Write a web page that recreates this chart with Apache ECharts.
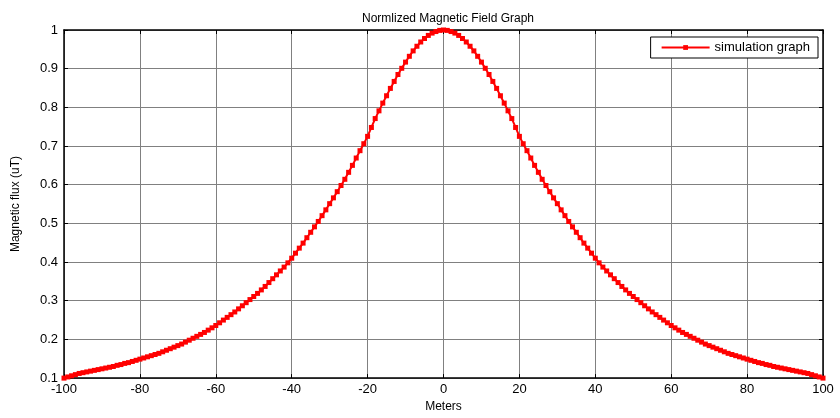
<!DOCTYPE html>
<html>
<head>
<meta charset="utf-8">
<title>Normlized Magnetic Field Graph</title>
<script src="https://cdn.jsdelivr.net/npm/echarts@6/dist/echarts.min.js"></script>
<style>
	html, body { margin: 0; padding: 0; background: #fff; }
	#chart { width: 840px; height: 418px; }
</style>
</head>
<body>
<div id="chart"></div>
<script>
// 横轴：米，每 1 米一个采样点
var xStart = -100;
var xStep = 1;
// 归一化磁通 (uT)，从 -100 m 到 100 m
var flux = [
	0.100, 0.103, 0.106, 0.109, 0.112, 0.114, 0.116, 0.118, 0.120, 0.122,
	0.124, 0.126, 0.128, 0.130, 0.133, 0.135, 0.138, 0.140, 0.143, 0.146,
	0.149, 0.152, 0.155, 0.158, 0.161, 0.164, 0.168, 0.172, 0.176, 0.180,
	0.184, 0.188, 0.193, 0.198, 0.203, 0.208, 0.213, 0.218, 0.224, 0.230,
	0.236, 0.243, 0.250, 0.257, 0.264, 0.271, 0.279, 0.287, 0.295, 0.303,
	0.311, 0.319, 0.328, 0.337, 0.347, 0.357, 0.367, 0.377, 0.387, 0.398,
	0.410, 0.423, 0.436, 0.449, 0.463, 0.477, 0.491, 0.505, 0.520, 0.535,
	0.551, 0.566, 0.582, 0.598, 0.614, 0.632, 0.650, 0.669, 0.688, 0.706,
	0.725, 0.748, 0.771, 0.791, 0.811, 0.830, 0.849, 0.867, 0.885, 0.901,
	0.917, 0.932, 0.946, 0.958, 0.969, 0.978, 0.986, 0.992, 0.996, 0.999,
	1.000,
	0.999, 0.996, 0.992, 0.986, 0.978, 0.969, 0.958, 0.946, 0.932, 0.917,
	0.901, 0.885, 0.867, 0.849, 0.830, 0.811, 0.791, 0.771, 0.748, 0.725,
	0.706, 0.688, 0.669, 0.650, 0.632, 0.614, 0.598, 0.582, 0.566, 0.551,
	0.535, 0.520, 0.505, 0.491, 0.477, 0.463, 0.449, 0.436, 0.423, 0.410,
	0.398, 0.387, 0.377, 0.367, 0.357, 0.347, 0.337, 0.328, 0.319, 0.311,
	0.303, 0.295, 0.287, 0.279, 0.271, 0.264, 0.257, 0.250, 0.243, 0.236,
	0.230, 0.224, 0.218, 0.213, 0.208, 0.203, 0.198, 0.193, 0.188, 0.184,
	0.180, 0.176, 0.172, 0.168, 0.164, 0.161, 0.158, 0.155, 0.152, 0.149,
	0.146, 0.143, 0.140, 0.138, 0.135, 0.133, 0.130, 0.128, 0.126, 0.124,
	0.122, 0.120, 0.118, 0.116, 0.114, 0.112, 0.109, 0.106, 0.103, 0.100
];
var xTicks = [-100, -80, -60, -40, -20, 0, 20, 40, 60, 80, 100];
var yTicks = [0.1, 0.2, 0.3, 0.4, 0.5, 0.6, 0.7, 0.8, 0.9, 1];

var FONT = '"Liberation Sans", Arial, sans-serif';

var points = [];
for (var i = 0; i < flux.length; i++) {
	points.push([xStart + i * xStep, flux[i]]);
}

var chart = echarts.init(document.getElementById('chart'));

//坐标轴（四周的框）
function boxAxis(pos, isX, main) {
	var ax = {
		type: 'value',
		position: pos,
		min: isX ? xTicks[0] : yTicks[0],
		max: isX ? xTicks[xTicks.length - 1] : yTicks[yTicks.length - 1],
		interval: isX ? 20 : 0.1,
		axisLine: { show: true, onZero: false, lineStyle: { color: '#000', width: 1.5 } },
		axisTick: { show: true, inside: true, length: 4, lineStyle: { color: '#000' } },
		axisLabel: { show: false },
		splitLine: { show: false }
	};
	if (main) {
		ax.axisLabel = {
			show: true,
			color: '#000',
			fontFamily: FONT,
			fontSize: 13,
			margin: isX ? 5 : 6,
			formatter: function(v) {
				return isX ? String(Math.round(v)) : String(+v.toFixed(1));
			}
		};
		ax.splitLine = { show: true, lineStyle: { color: '#808080', width: 1 } };
		ax.nameLocation = 'middle';
		ax.nameTextStyle = { color: '#000', fontFamily: FONT, fontSize: 12 };
		if (isX) {
			ax.name = 'Meters';
			ax.nameGap = 21;
		} else {
			ax.name = 'Magnetic flux (uT)';
			ax.nameGap = 42;
		}
	}
	return ax;
}

var option = {
	animation: false,
	backgroundColor: '#fff',
	title: {
		text: 'Normlized Magnetic Field Graph',
		left: 443,
		textAlign: 'center',
		top: 8,
		textStyle: { color: '#000', fontFamily: FONT, fontSize: 12, fontWeight: 'normal' }
	},
	grid: { left: 64, right: 17, top: 30, bottom: 37 },
	legend: {
		right: 22,
		top: 37,
		orient: 'vertical',
		backgroundColor: '#fff',
		borderColor: '#000',
		borderWidth: 1,
		borderRadius: 0,
		padding: [4, 8, 4, 10],
		itemWidth: 48,
		itemHeight: 6,
		itemGap: 6,
		textStyle: { color: '#000', fontFamily: FONT, fontSize: 13 },
		data: ['simulation graph']
	},
	xAxis: [boxAxis('bottom', true, true), boxAxis('top', true, false)],
	yAxis: [boxAxis('left', false, true), boxAxis('right', false, false)],
	series: [{
		name: 'simulation graph',
		type: 'line',
		data: points,
		symbol: 'rect',
		symbolSize: 5,
		showAllSymbol: true,
		lineStyle: { color: '#ff0000', width: 2 },
		itemStyle: { color: '#ff0000' },
		z: 5
	}]
};
chart.setOption(option, true);
</script>
</body>
</html>
